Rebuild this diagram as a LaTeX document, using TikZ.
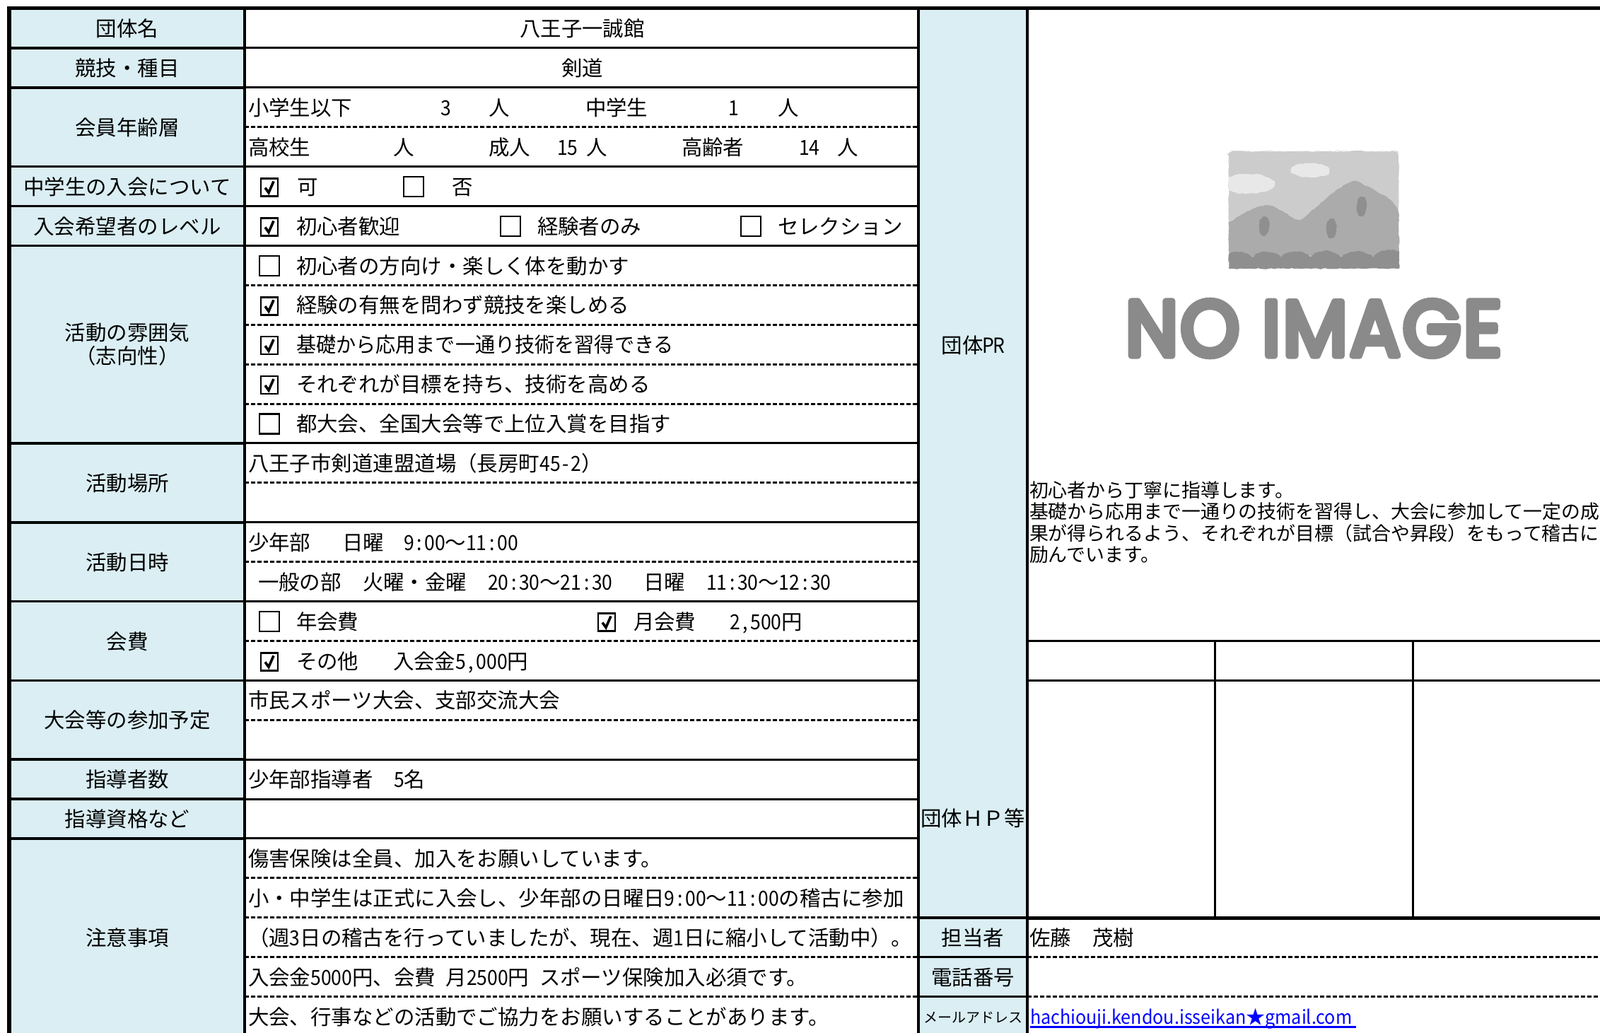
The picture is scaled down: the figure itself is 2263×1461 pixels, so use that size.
\documentclass[tikz,border=0pt]{standalone}
\usepackage{fontspec}
\setmainfont{Noto Sans CJK JP}
\newfontfamily\dgfont[FakeStretch=0.9]{Noto Sans CJK JP}
\newfontfamily\linkfont[FakeStretch=0.93]{Noto Sans CJK JP}
\newfontfamily\logofont[FakeBold=8,LetterSpace=3]{Poppins}
\usetikzlibrary{decorations.pathmorphing}
\definecolor{cellblue}{HTML}{DAEEF3}
\makeatletter
\newcommand{\Dg}[1]{\@tfor\dgch:=#1\do{\makebox[14.7pt][c]{\dgfont\dgch}}}
\makeatother
\newcommand{\HS}{\hspace*{14.7pt}}
\newcounter{nn}
\tikzset{
  x=1pt,y=-1pt,
  txt/.style={inner sep=0pt,outer sep=0pt,font=\fontsize{29.45}{33}\selectfont},
  lft/.style={txt,anchor=base west},
  ctr/.style={txt,anchor=base},
  solidline/.style={line width=3pt,black},
  labelline/.style={line width=3.6pt,black},
  dashline/.style={line width=3pt,black,dash pattern=on 6pt off 3pt},
  rough/.style={decorate,decoration={random steps,segment length=4pt,amplitude=0.9pt}},
}
\newcommand{\RY}[1]{12+55.9*(#1)}
\newcommand{\Tl}[3]{\stepcounter{nn}\node[lft] (t\arabic{nn}) at ({#1},{\RY{#2+0.5}+11.7}) {#3};}
\newcommand{\Tc}[3]{\stepcounter{nn}\node[ctr] (t\arabic{nn}) at ({#1},{\RY{#2+0.5}+11.7}) {#3};}
\newcommand{\BoxE}[2]{\draw[line width=2.6pt] ({#1-14},{\RY{#2+0.5}-13.5}) rectangle ({#1+14},{\RY{#2+0.5}+14.5});}
\newcommand{\BoxC}[2]{\draw[line width=2.6pt] ({#1-12},{\RY{#2+0.5}-11}) rectangle ({#1+12},{\RY{#2+0.5}+14});
  \draw[line width=3.6pt,line join=miter] ({#1-6},{\RY{#2+0.5}+2}) -- ({#1-1},{\RY{#2+0.5}+9}) -- ({#1+6},{\RY{#2+0.5}-7});}
\begin{document}
\begin{tikzpicture}
\useasboundingbox (0,0) rectangle (2263,1461);
\clip (0,0) rectangle (2263,1461);
\fill[white] (0,0) rectangle (2263,1461);
% filled columns
\fill[cellblue] (13,12) rectangle (346,1461);
\fill[cellblue] (1299,12) rectangle (1453,1461);
% horizontal rules
\foreach \k in {1,2,4,5,6,11,13,15,17,19,20,21}{
  \draw[labelline] (13,{\RY{\k}}) -- (346,{\RY{\k}});
  \draw[solidline] (346,{\RY{\k}}) -- (1299,{\RY{\k}});
}
\foreach \k in {3,7,8,9,10,12,14,16,18,22,23,24,25}{
  \draw[dashline] (346,{\RY{\k}}) -- (1299,{\RY{\k}});
}
\foreach \k in {24,25}{
  \draw[labelline] (1299,{\RY{\k}}) -- (1453,{\RY{\k}});
}
\foreach \k in {24,25}{
  \draw[dashline] (1453,{\RY{\k}}) -- (2263,{\RY{\k}});
}
\draw[solidline] (1453,{\RY{16}}) -- (2263,{\RY{16}});
\draw[solidline] (1453,{\RY{17}}) -- (2263,{\RY{17}});
\draw[labelline] (1299,{\RY{23}+0.5}) -- (1453,{\RY{23}+0.5});
\draw[line width=4.6pt] (1453,{\RY{23}+0.5}) -- (2263,{\RY{23}+0.5});
\draw[solidline] (1718,{\RY{16}}) -- (1718,{\RY{23}});
\draw[solidline] (1998,{\RY{16}}) -- (1998,{\RY{23}});
% vertical rules
\draw[line width=3.6pt] (346,12) -- (346,1461);
\draw[line width=3.6pt] (1299,12) -- (1299,1461);
\draw[line width=3.8pt] (1453,12) -- (1453,1461);
\draw[line width=6pt] (13,9) -- (13,1461);
\draw[line width=5.5pt] (10,11.5) -- (2263,11.5);
% label column
\Tc{180}{0}{団体名}
\Tc{180}{1}{競技・種目}
\Tc{180}{2.5}{会員年齢層}
\Tc{180}{4}{中学生の入会について}
\Tc{180}{5}{入会希望者のレベル}
\stepcounter{nn}\node[ctr] (t\arabic{nn}) at (180,481) {活動の雰囲気};
\stepcounter{nn}\node[ctr] (t\arabic{nn}) at (180,514) {（志向性）};
\Tc{180}{11.5}{活動場所}
\Tc{180}{13.5}{活動日時}
\Tc{180}{15.5}{会費}
\Tc{180}{17.5}{大会等の参加予定}
\Tc{180}{19}{指導者数}
\Tc{180}{20}{指導資格など}
\Tc{180}{23}{注意事項}
% middle column
\Tc{823.5}{0}{八王子一誠館}
\Tc{823.5}{1}{剣道}
\Tl{351}{2}{小学生以下}\Tl{623}{2}{\Dg{3}}\Tl{691}{2}{人}\Tl{828}{2}{中学生}\Tl{1030}{2}{\Dg{1}}\Tl{1100}{2}{人}
\Tl{351}{3}{高校生}\Tl{556}{3}{人}\Tl{691}{3}{成人}\Tl{788}{3}{\Dg{15}}\Tl{829}{3}{人}\Tl{964}{3}{高齢者}\Tl{1130}{3}{\Dg{14}}\Tl{1184}{3}{人}
\BoxC{381}{4}\Tl{420}{4}{可}\BoxE{585}{4}\Tl{639}{4}{否}
\BoxC{381}{5}\Tl{419}{5}{初心者歓迎}\BoxE{722}{5}\Tl{760}{5}{経験者のみ}\BoxE{1062}{5}\Tl{1100}{5}{セレクション}
\BoxE{381}{6}\Tl{419}{6}{初心者の方向け・楽しく体を動かす}
\BoxC{381}{7}\Tl{419}{7}{経験の有無を問わず競技を楽しめる}
\BoxC{381}{8}\Tl{419}{8}{\scalebox{0.955}[1]{基礎から応用まで一通り技術を習得できる}}
\BoxC{381}{9}\Tl{419}{9}{それぞれが目標を持ち、技術を高める}
\BoxE{381}{10}\Tl{419}{10}{都大会、全国大会等で上位入賞を目指す}
\Tl{351}{11}{八王子市剣道連盟道場（長房町\Dg{45-2}）}
\Tl{351}{13}{少年部}\Tl{484}{13}{日曜}\Tl{571}{13}{\Dg{9:00}〜\Dg{11:00}}
\Tl{365}{14}{一般の部}\Tl{513}{14}{火曜・金曜}\Tl{690}{14}{\Dg{20:30}〜\Dg{21:30}}\Tl{910}{14}{日曜}\Tl{999}{14}{\Dg{11:30}〜\Dg{12:30}}
\BoxE{381}{15}\Tl{419}{15}{年会費}\BoxC{858}{15}\Tl{896}{15}{月会費}\Tl{1032}{15}{\Dg{2,500}円}
\BoxC{381}{16}\Tl{419}{16}{その他}\Tl{556}{16}{入会金\Dg{5,000}円}
\Tl{351}{17}{市民スポーツ大会、支部交流大会}
\Tl{351}{19}{少年部指導者}\Tl{557}{19}{\Dg{5}名}
\Tl{351}{21}{傷害保険は全員、加入をお願いしています。}
\Tl{351}{22}{小・中学生は正式に入会し、少年部の日曜日\Dg{9:00}～\Dg{11:00}の稽古に参加}
\Tl{351}{23}{（週\Dg{3}日の稽古を行っていましたが、現在、週\Dg{1}日に縮小して活動中）。}
\Tl{351}{24}{入会金\Dg{5000}円、会費\HS 月\Dg{2500}円\HS スポーツ保険加入必須です。}
\Tl{351}{25}{大会、行事などの活動でご協力をお願いすることがあります。}
% PR column
\stepcounter{nn}\node[ctr] (t\arabic{nn}) at (1376,499) {団体\Dg{PR}};
\stepcounter{nn}\node[ctr] (t\arabic{nn}) at (1376,1168) {団体ＨＰ等};
\Tc{1376}{23}{担当者}
\Tc{1376}{24}{電話番号}
\stepcounter{nn}\node[ctr,font=\fontsize{20}{22}\selectfont] (t\arabic{nn}) at (1376,1446) {メールアドレス};
\Tl{1456}{23}{佐藤}\Tl{1545}{23}{茂樹}
% link
\stepcounter{nn}\node[lft,font=\fontsize{27}{30}\selectfont,text=blue] (t\arabic{nn}) at (1457,1448.5) {{\linkfont hachiouji.kendou.isseikan}★{\linkfont gmail.com}};
\draw[blue,line width=3pt] (1457,1452) -- (1918,1452);
% PR text
\foreach \yy/\tt in {703.5/初心者から丁寧に指導します。,733.5/基礎から応用まで一通りの技術を習得し、大会に参加して一定の成,764/果が得られるよう、それぞれが目標（試合や昇段）をもって稽古に,794.5/励んでいます。}{
  \stepcounter{nn}\node[lft,font=\fontsize{26.9}{30}\selectfont] (t\arabic{nn}) at (1456,\yy) {\tt};
}
% NO IMAGE illustration
\fill[rough,fill=black!20,rounded corners=6pt] (1738,214) rectangle (1978,379);
\fill[rough,fill=black!9] (1853,241) ellipse (27 and 10);
\begin{scope}
\clip (1738,214) rectangle (1978,378);
\fill[rough,fill=black!9] (1765,260) ellipse (38 and 14);
\end{scope}
\fill[rough,fill=black!33] plot[smooth,tension=0.5] coordinates {(1738,318) (1757,303) (1790,290) (1810,297) (1837,311) (1853,300) (1887,272) (1912,257) (1933,263) (1967,283) (1978,300)} -- (1979,362) -- (1738,362) -- cycle;
\fill[rough,fill=black!44] (1788,320) ellipse (7 and 13);
\fill[rough,fill=black!44] (1883,323) ellipse (7 and 13);
\fill[rough,fill=black!44] (1926,292) ellipse (7 and 13);
\fill[rough,fill=black!44] (1738,380) -- (1738,360) .. controls (1745,354) and (1760,354) .. (1772,364) .. controls (1780,353) and (1800,353) .. (1812,364) .. controls (1822,353) and (1842,353) .. (1853,364) .. controls (1865,352) and (1885,352) .. (1897,364) .. controls (1908,353) and (1930,353) .. (1942,364) .. controls (1952,352) and (1970,352) .. (1979,356) -- (1979,380) -- cycle;
\begin{scope}[line join=round]
\stepcounter{nn}\node[inner sep=0pt,anchor=center,text=black!46] (t\arabic{nn}) at (1858,464.5) {\resizebox{532pt}{78pt}{\logofont NO\hspace{0.3em}IMAGE}};
\end{scope}
\end{tikzpicture}
\end{document}
